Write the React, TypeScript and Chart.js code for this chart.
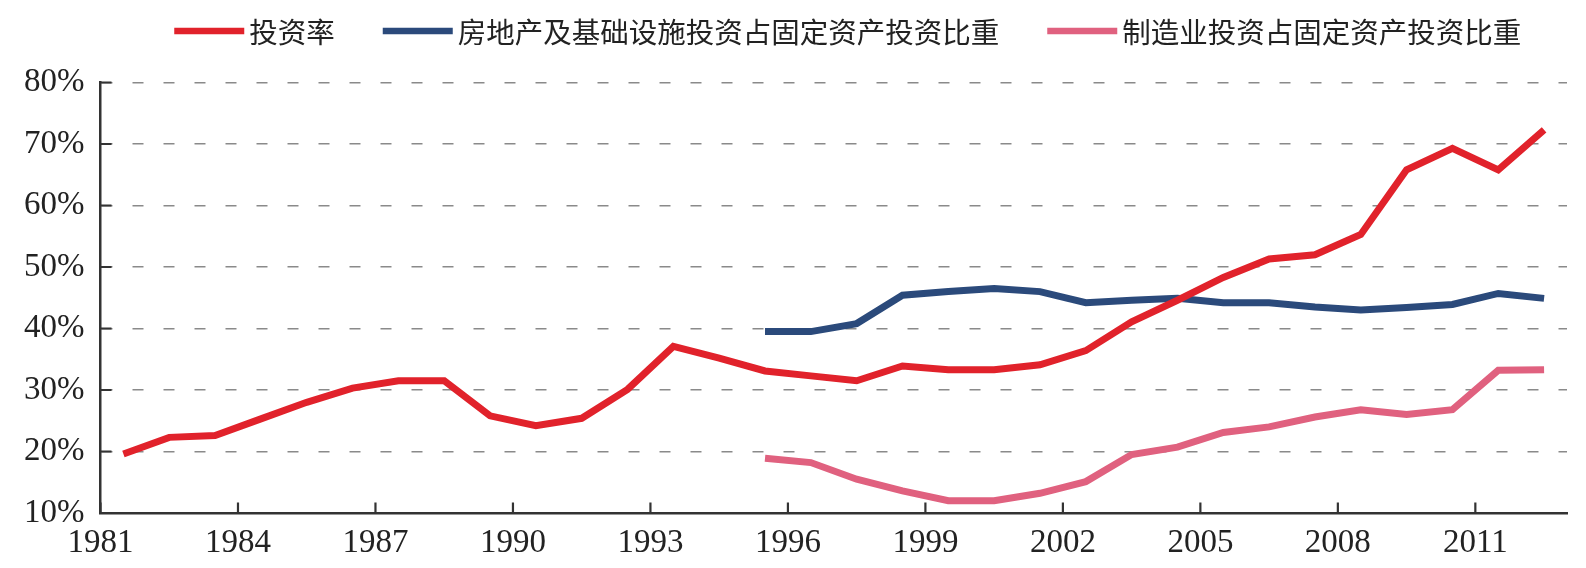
import React, { useEffect, useRef } from 'react';
import { Chart, registerables } from 'chart.js';

Chart.register(...registerables);

// ---- data ----
const years = [
  1981, 1982, 1983, 1984, 1985, 1986, 1987, 1988, 1989, 1990, 1991, 1992, 1993, 1994, 1995, 1996,
  1997, 1998, 1999, 2000, 2001, 2002, 2003, 2004, 2005, 2006, 2007, 2008, 2009, 2010, 2011, 2012,
];
const tickYears = [1981, 1984, 1987, 1990, 1993, 1996, 1999, 2002, 2005, 2008, 2011];
const yTickValues = [10, 20, 30, 40, 50, 60, 70, 80];

const seriesNames = ['投资率', '房地产及基础设施投资占固定资产投资比重', '制造业投资占固定资产投资比重'];

const investmentRate = [
  19.6, 22.3, 22.6, 25.3, 28.0, 30.3, 31.5, 31.5, 25.8, 24.2, 25.4, 30.1, 37.1, 35.2, 33.1, 32.3,
  31.5, 33.9, 33.3, 33.3, 34.1, 36.4, 41.1, 44.6, 48.3, 51.3, 52.0, 55.3, 65.8, 69.3, 65.8, 72.3,
];
const realEstateInfraShare = [
  null, null, null, null, null, null, null, null, null, null, null, null, null, null,
  39.5, 39.5, 40.8, 45.4, 46.0, 46.5, 46.0, 44.2, 44.6, 44.9, 44.2, 44.2, 43.5, 43.0, 43.4, 43.9, 45.7, 44.9,
];
const manufacturingShare = [
  null, null, null, null, null, null, null, null, null, null, null, null, null, null,
  18.9, 18.2, 15.5, 13.6, 12.0, 12.0, 13.2, 15.1, 19.5, 20.7, 23.1, 24.0, 25.6, 26.8, 26.0, 26.8, 33.2, 33.3,
];

// ---- styles ----
const colors = ['#e1222b', '#2b4a7b', '#e0617f'];
const axisColor = '#333333';
const gridColor = '#8a8a8a';
const textColor = '#222222';
const serifFont = "'Liberation Serif', 'Times New Roman', serif";
const cjkFont = "'Noto Sans CJK SC', sans-serif";

const toPoints = (arr: (number | null)[]) => arr.map((v, i) => ({ x: i, y: v }));

const legendPlugin = {
  id: 'topLegend',
  afterDraw(chart: any) {
    const { ctx, chartArea } = chart;
    ctx.save();
    ctx.font = `28.5px ${cjkFont}`;
    const lineW = 70;
    const lineH = 6.5;
    const gapText = 5;
    const gapItem = 48;
    const items = chart.data.datasets.map((ds: any) => ({
      text: ds.label,
      color: ds.borderColor,
      w: ctx.measureText(ds.label).width,
    }));
    const total =
      items.reduce((s: number, it: any) => s + lineW + gapText + it.w, 0) + gapItem * (items.length - 1);
    const cx = (chartArea.left + chartArea.right) / 2 + 14;
    let x = cx - total / 2;
    const y = 23;
    items.forEach((it: any) => {
      ctx.fillStyle = it.color;
      ctx.fillRect(x, y - lineH / 2, lineW, lineH);
      x += lineW + gapText;
      ctx.fillStyle = textColor;
      ctx.textAlign = 'left';
      ctx.textBaseline = 'middle';
      ctx.fillText(it.text, x, y + 1.5);
      x += it.w + gapItem;
    });
    ctx.restore();
  },
};

const inwardTicksPlugin = {
  id: 'inwardTicks',
  afterDraw(chart: any) {
    const { ctx, chartArea, scales } = chart;
    ctx.save();
    ctx.strokeStyle = axisColor;
    ctx.lineWidth = 2.2;
    ctx.beginPath();
    scales.y.ticks.forEach((t: any) => {
      const py = scales.y.getPixelForValue(t.value);
      ctx.moveTo(chartArea.left, py);
      ctx.lineTo(chartArea.left + 11, py);
    });
    scales.x.ticks.forEach((t: any) => {
      const px = scales.x.getPixelForValue(t.value);
      ctx.moveTo(px, chartArea.bottom);
      ctx.lineTo(px, chartArea.bottom - 10.5);
    });
    ctx.stroke();
    ctx.restore();
  },
};

export default function App() {
  const canvasRef = useRef<HTMLCanvasElement | null>(null);

  useEffect(() => {
    if (!canvasRef.current) return;
    const seriesData = [investmentRate, realEstateInfraShare, manufacturingShare];
    const chart = new Chart(canvasRef.current, {
      type: 'line',
      data: {
        datasets: seriesData.map((arr, i) => ({
          label: seriesNames[i],
          data: toPoints(arr),
          borderColor: colors[i],
          backgroundColor: colors[i],
          borderWidth: 7,
          pointRadius: 0,
          tension: 0,
          borderJoinStyle: 'miter',
          spanGaps: false,
        })),
      },
      options: {
        animation: false,
        responsive: true,
        maintainAspectRatio: false,
        layout: { padding: { top: 74.5, right: 11, bottom: 0, left: 0 } },
        plugins: {
          legend: { display: false },
          tooltip: { enabled: false },
        },
        scales: {
          x: {
            type: 'linear',
            min: -0.5,
            max: years.length - 0.5,
            afterBuildTicks: (scale: any) => {
              scale.ticks = tickYears.map((yr) => ({ value: years.indexOf(yr) - 0.5 }));
            },
            afterFit: (scale: any) => {
              scale.height = 55;
            },
            ticks: {
              autoSkip: false,
              maxRotation: 0,
              padding: 11,
              color: textColor,
              font: { family: serifFont, size: 33 },
              callback: (v: any) => String(years[Math.round(Number(v) + 0.5)]),
            },
            grid: { display: false, drawTicks: false },
            border: { display: true, color: axisColor, width: 2.5 },
          },
          y: {
            type: 'linear',
            min: yTickValues[0],
            max: yTickValues[yTickValues.length - 1],
            afterBuildTicks: (scale: any) => {
              scale.ticks = yTickValues.map((v) => ({ value: v }));
            },
            afterFit: (scale: any) => {
              scale.width = 92.5;
            },
            ticks: {
              padding: 16,
              color: textColor,
              font: { family: serifFont, size: 33 },
              callback: (v: any) => `${v}%`,
            },
            grid: {
              display: true,
              drawTicks: false,
              color: gridColor,
              lineWidth: 1.4,
            },
            border: { display: true, color: axisColor, width: 2.5, dash: [11, 20] },
          },
        },
      },
      plugins: [legendPlugin, inwardTicksPlugin],
    } as any);
    return () => chart.destroy();
  }, []);

  return (
    <div style={{ position: 'relative', width: '100%', height: 560 }}>
      <canvas ref={canvasRef} />
    </div>
  );
}
